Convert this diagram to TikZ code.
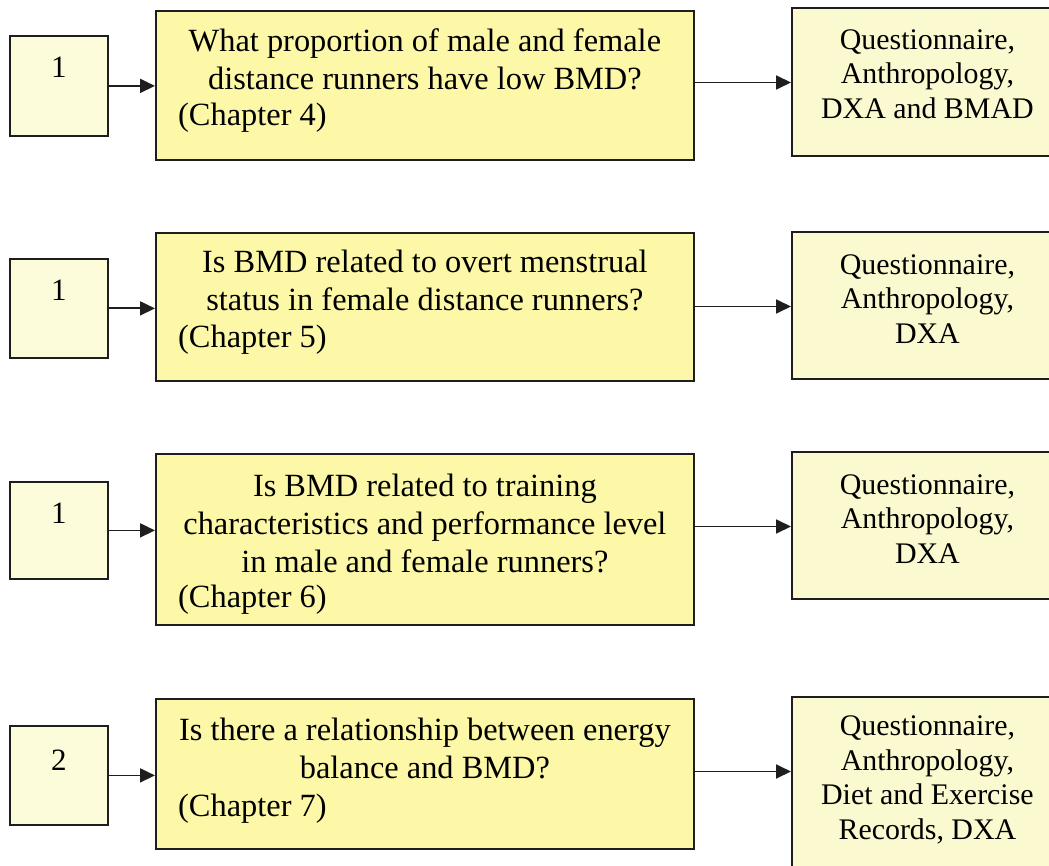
\documentclass[tikz,border=0pt]{standalone}
\usepackage{fontspec}
\setmainfont{Liberation Serif}
\usetikzlibrary{calc,arrows.meta}
\definecolor{numfill}{HTML}{FCFBDA}
\definecolor{qfill}{HTML}{FCF8A8}
\definecolor{mfill}{HTML}{FBF9CF}
\definecolor{edge}{HTML}{1E1E1E}

\begin{document}
\begin{tikzpicture}[x=1pt,y=-1pt,
  box/.style={draw=edge, line width=1.8pt, rectangle, anchor=north west, inner sep=0pt},
  numbox/.style={box, fill=numfill, minimum width=98pt},
  qbox/.style={box, fill=qfill, minimum width=538pt},
  mbox/.style={box, fill=mfill, minimum width=271pt},
  qtext/.style={align=center, inner sep=0pt, anchor=north,
                font=\fontsize{32.4}{38}\selectfont},
  ctext/.style={inner sep=0pt, anchor=base west, font=\fontsize{32.4}{38}\selectfont},
  mtext/.style={align=center, inner sep=0pt, anchor=north,
                font=\fontsize{29.9}{34.5}\selectfont},
  num/.style={inner sep=0pt, font=\fontsize{31}{37}\selectfont},
  link/.style={draw=edge, line width=1.8pt, -{Triangle[length=15pt,width=14pt]}}
]
\path[use as bounding box] (0,0) rectangle (1049,866);
\clip (0,0) rectangle (1049,866);

% row 1
\node[numbox, minimum height=100pt] (s1) at (9,35) {};
\node[num] (n1) at ($(s1.north)+(0,32)$) {1};
\node[qbox, minimum height=149pt] (q1) at (155,10) {};
\node[qtext] (qt1) at ($(q1.north)+(0,18)$)
  {What proportion of male and female\\ distance runners have low BMD?};
\node[ctext] (c1) at ($(q1.north west)+(23,116)$) {(Chapter 4)};
\node[mbox, minimum height=148pt] (m1) at (791,7) {};
\node[mtext] (mt1) at ($(m1.north)+(0,22.5)$)
  {Questionnaire,\\ Anthropology,\\ DXA and BMAD};

% row 2
\node[numbox, minimum height=99pt] (s2) at (9,258) {};
\node[num] (n2) at ($(s2.north)+(0,32)$) {1};
\node[qbox, minimum height=148pt] (q2) at (155,232) {};
\node[qtext] (qt2) at ($(q2.north)+(0,18)$)
  {Is BMD related to overt menstrual\\ status in female distance runners?};
\node[ctext] (c2) at ($(q2.north west)+(23,116)$) {(Chapter 5)};
\node[mbox, minimum height=147pt] (m2) at (791,231) {};
\node[mtext] (mt2) at ($(m2.north)+(0,23.5)$)
  {Questionnaire,\\ Anthropology,\\ DXA};

% row 3
\node[numbox, minimum height=97pt] (s3) at (9,481) {};
\node[num] (n3) at ($(s3.north)+(0,32)$) {1};
\node[qbox, minimum height=171pt] (q3) at (155,453) {};
\node[qtext] (qt3) at ($(q3.north)+(0,21)$)
  {Is BMD related to training\\ characteristics and performance level\\
   in male and female runners?};
\node[ctext] (c3) at ($(q3.north west)+(23,154)$) {(Chapter 6)};
\node[mbox, minimum height=147pt] (m3) at (791,451) {};
\node[mtext] (mt3) at ($(m3.north)+(0,23.5)$)
  {Questionnaire,\\ Anthropology,\\ DXA};

% row 4
\node[numbox, minimum height=99pt] (s4) at (9,725) {};
\node[num] (n4) at ($(s4.north)+(0,35)$) {2};
\node[qbox, minimum height=150pt] (q4) at (155,698) {};
\node[qtext] (qt4) at ($(q4.north)+(0,20)$)
  {Is there a relationship between energy\\ balance and BMD?};
\node[ctext] (c4) at ($(q4.north west)+(23,118)$) {(Chapter 7)};
\node[mbox, minimum height=200pt] (m4) at (791,696) {};
\node[mtext] (mt4) at ($(m4.north)+(0,19.5)$)
  {Questionnaire,\\ Anthropology,\\ Diet and Exercise\\ Records, DXA};

% connectors: number box -> question -> methods
\foreach \i in {1,2,3,4}{
  \draw[link] (s\i.east) -- (s\i.east -| q\i.west);
  \coordinate (r\i) at ($(m\i.north west)+(0,75.5)$);
  \draw[link] (q\i.east |- r\i) -- (r\i);
}
\end{tikzpicture}
\end{document}
